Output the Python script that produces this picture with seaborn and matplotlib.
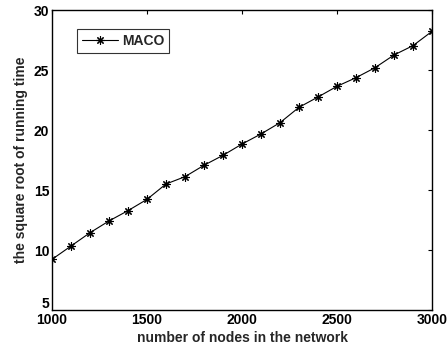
import matplotlib
matplotlib.use("Agg")
import matplotlib.pyplot as plt
import matplotlib.transforms as mtransforms
import seaborn as sns
import pandas as pd

# Network size vs square root of running time
nodes = [1000, 1100, 1200, 1300, 1400, 1500, 1600, 1700, 1800, 1900, 2000,
         2100, 2200, 2300, 2400, 2500, 2600, 2700, 2800, 2900, 3000]
sqrt_time = [9.22, 10.33, 11.44, 12.42, 13.28, 14.22, 15.50, 16.11, 17.06, 17.89, 18.83,
             19.67, 20.61, 21.89, 22.75, 23.64, 24.36, 25.19, 26.25, 27.03, 28.22]
series_name = "MACO"
x_ticks = [1000, 1500, 2000, 2500, 3000]
y_ticks = [5, 10, 15, 20, 25, 30]

df = pd.DataFrame({"nodes": nodes, "sqrt_time": sqrt_time, "method": series_name})

sns.set_style("white")
plt.rcParams["font.family"] = ["Liberation Sans", "DejaVu Sans"]
plt.rcParams["font.weight"] = "bold"

fig = plt.figure(figsize=(4.48, 3.47), dpi=100)
ax = fig.add_axes([52 / 448, 37 / 347, 380 / 448, 300 / 347])

sns.lineplot(data=df, x="nodes", y="sqrt_time", hue="method", palette=["black"],
             marker=(8, 2, 0), markersize=6, markeredgewidth=0.8, markeredgecolor="black",
             linewidth=0.8, ax=ax)

ax.set_xlim(1000, 3000)
ax.set_ylim(5, 30)
ax.set_xticks(x_ticks)
ax.set_yticks(y_ticks)
ax.tick_params(direction="in", length=3, width=0.8, top=True, right=True,
               labelsize=10, pad=2, colors="black")
for lab in ax.get_xticklabels() + ax.get_yticklabels():
    lab.set_fontweight("bold")

# lift the lowest y label so it sits just above the first x label
low = ax.get_yticklabels()[0]
low.set_verticalalignment("bottom")
low.set_transform(low.get_transform() + mtransforms.ScaledTranslation(0, -1 / 72, fig.dpi_scale_trans))

for sp in ax.spines.values():
    sp.set_visible(True)
    sp.set_color("black")
    sp.set_linewidth(1.0)

ax.set_xlabel("number of nodes in the network", fontsize=10, fontweight="bold", labelpad=3)
ax.set_ylabel("the square root of running time", fontsize=10, fontweight="bold", labelpad=4)

leg = ax.legend(loc="upper left", bbox_to_anchor=(0.065, 0.937), frameon=True, fancybox=False,
                fontsize=10, handlelength=2.6, borderpad=0.35, handletextpad=0.3,
                borderaxespad=0)
leg.get_frame().set_edgecolor("black")
leg.get_frame().set_linewidth(0.8)
for t in leg.get_texts():
    t.set_fontweight("bold")

fig.savefig("out.png", dpi=100)
